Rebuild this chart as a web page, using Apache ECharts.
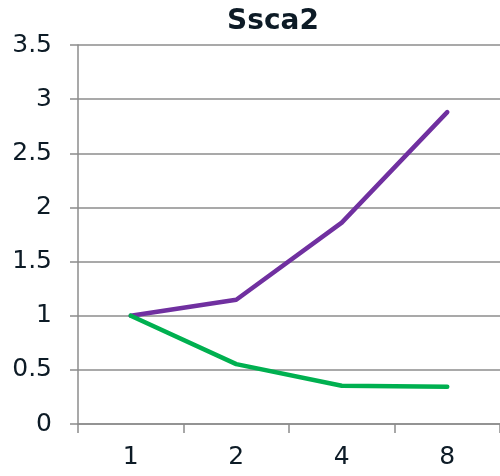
<!DOCTYPE html>
<html>
<head>
<meta charset="utf-8">
<script src="https://cdn.jsdelivr.net/npm/echarts@6/dist/echarts.min.js"></script>
<style>
  html, body { margin: 0; padding: 0; background: #fff; }
  #chart { width: 500px; height: 476px; }
</style>
</head>
<body>
<div id="chart"></div>
<script>
// Thread counts and relative values for the two runs
const threads = ['1', '2', '4', '8'];
const purpleSeries = [1.0, 1.147, 1.86, 2.88];
const greenSeries = [1.0, 0.553, 0.353, 0.345];
const yTicks = { min: 0, max: 3.5, interval: 0.5 };

const chart = echarts.init(document.getElementById('chart'), null, { renderer: 'canvas' });
const axisGrey = '#8c8c8c';
const textColor = '#0d1b26';
const font = 'DejaVu Sans, Verdana, sans-serif';

chart.setOption({
  animation: false,
  backgroundColor: '#ffffff',
  title: {
    text: 'Ssca2',
    left: 268,
    textAlign: 'center',
    top: 3,
    textStyle: { fontFamily: font, fontSize: 28, fontWeight: 'bold', color: textColor }
  },
  grid: { left: 78, right: 0, top: 45, bottom: 52, containLabel: false },
  xAxis: {
    type: 'category',
    data: threads,
    boundaryGap: true,
    axisLine: { lineStyle: { color: axisGrey, width: 1.5 } },
    axisTick: { show: true, length: 9, alignWithLabel: false, lineStyle: { color: axisGrey, width: 1.5 } },
    axisLabel: { fontFamily: font, fontSize: 25, color: textColor, margin: 21 },
    splitLine: { show: false }
  },
  yAxis: {
    type: 'value',
    min: yTicks.min,
    max: yTicks.max,
    interval: yTicks.interval,
    axisLine: { show: true, lineStyle: { color: axisGrey, width: 1.5 } },
    axisTick: { show: true, length: 8, lineStyle: { color: axisGrey, width: 1.5 } },
    axisLabel: { fontFamily: font, fontSize: 25, color: textColor, margin: 26 },
    splitLine: { show: true, lineStyle: { color: axisGrey, width: 1.5 } }
  },
  series: [
    {
      type: 'line',
      data: purpleSeries,
      symbol: 'none',
      lineStyle: { color: '#7030a0', width: 4.5, cap: 'round', join: 'round' },
      z: 3
    },
    {
      type: 'line',
      data: greenSeries,
      symbol: 'none',
      lineStyle: { color: '#00b050', width: 4.5, cap: 'round', join: 'round' },
      z: 4
    }
  ]
});
</script>
</body>
</html>
